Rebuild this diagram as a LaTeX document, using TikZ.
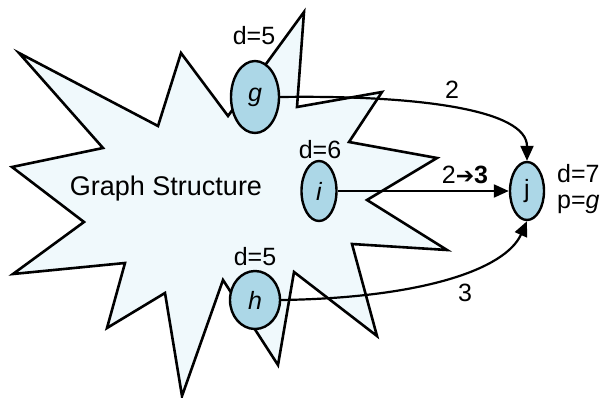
\documentclass[tikz,border=0pt]{standalone}
\usepackage{fontspec}
\setmainfont{Liberation Sans}
\newfontfamily\symfont{DejaVu Sans}
\usetikzlibrary{shapes.geometric,arrows.meta}
\definecolor{starfill}{RGB}{240,249,252}
\definecolor{nodefill}{RGB}{172,215,231}
\tikzset{
  vert/.style={ellipse,draw=black,line width=2.4pt,fill=nodefill,inner sep=0pt,font=\fontsize{25}{28}\selectfont},
  lbl/.style={font=\fontsize{25}{28}\selectfont,inner sep=0pt},
  edge/.style={line width=2.2pt,-{Triangle[length=15pt,width=13pt]}},
  burst/.style={draw=black,line width=2.6pt,fill=starfill,line join=miter,miter limit=20}
}
\begin{document}
\begin{tikzpicture}[x=1pt,y=-1pt]
\useasboundingbox (0,0) rectangle (602,398);
\draw[burst] (19,53) -- (158,126) -- (181,53) -- (228,116) -- (304,12) -- (297,107)
  -- (382,92) -- (349,142) -- (437,158) -- (367,200) -- (447,250) -- (352,244)
  -- (377,336) -- (294,272) -- (278,365) -- (223,280) -- (182,396) -- (165,293)
  -- (107,328) -- (125,263) -- (13,274) -- (84,222) -- (12,167) -- (103,148) -- cycle;
\node[lbl,font=\fontsize{27}{30}\selectfont] (gs) at (166,189) {Graph Structure};
\node[vert,minimum width=48pt,minimum height=72pt] (g) at (255,97) {\itshape g};
\node[vert,minimum width=35pt,minimum height=60pt] (i) at (319,191) {\itshape i};
\node[vert,minimum width=50pt,minimum height=58pt] (h) at (255,300) {\itshape h};
\node[vert,minimum width=34pt,minimum height=58pt] (j) at (527,191) {j};
\node[lbl] (dg) at (254,36) {d=5};
\node[lbl] (di) at (320,150) {d=6};
\node[lbl] (dh) at (255,257) {d=5};
\node[lbl,anchor=base west] (dj) at (557,183) {d=7};
\node[lbl,anchor=base west] (pj) at (557,208) {p=\itshape g};
\draw[edge] (g.east) .. controls (420,95) and (527,110) .. (j.north);
\draw[edge] (i.east) -- (j.west);
\draw[edge] (h.east) .. controls (420,298) and (505,270) .. (j.south);
\node[lbl] (w1) at (452,90) {2};
\node[lbl] (w2) at (465,175) {2{\symfont\fontsize{22}{24}\selectfont ➔}\textbf{3}};
\node[lbl] (w3) at (465,293) {3};
\end{tikzpicture}
\end{document}
